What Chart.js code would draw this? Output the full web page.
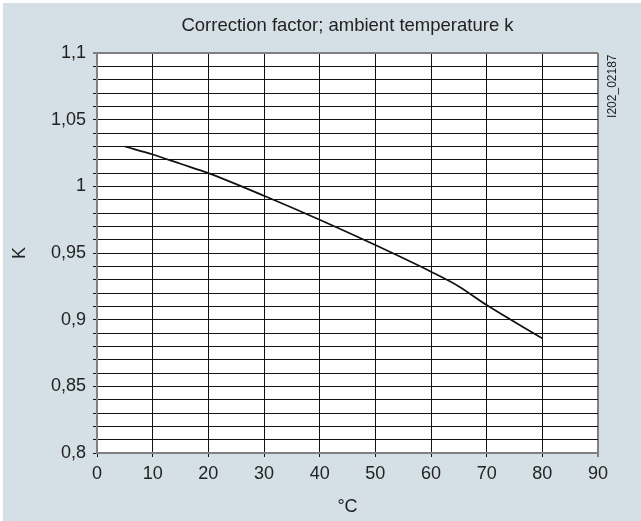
<!DOCTYPE html>
<html>
<head>
<meta charset="utf-8">
<script src="https://cdn.jsdelivr.net/npm/chart.js@4.4.1/dist/chart.umd.min.js"></script>
<style>
    html, body { margin: 0; padding: 0; background: #fff; }
    #wrap { width: 641px; height: 521px; }
</style>
</head>
<body>
<div id="wrap"><canvas id="kChart" width="641" height="521"></canvas></div>
<script>
// values
const temps = [5, 10, 15, 20, 30, 40, 50, 60, 65, 70, 80];
const factors = [1.030, 1.024, 1.017, 1.010, 0.993, 0.975, 0.956, 0.936, 0.925, 0.911, 0.886];

const chartTitle = 'Correction factor; ambient temperature k';
const xTitle = '°C';
const yTitle = 'K';
const figureCode = 'I202_02187';

const panelColor = '#d5dfe6';
const frameColor = '#808080';
const fontFamily = '"Liberation Sans", Arial, sans-serif';

// grey panel, white plot area, code label on the right
const backdrop = {
    id: 'backdrop',
    beforeDraw(chart) {
        const { ctx, chartArea: a } = chart;
        ctx.save();
        ctx.fillStyle = panelColor;
        ctx.fillRect(3, 3, chart.width - 3, chart.height - 3);
        ctx.fillStyle = '#fff';
        ctx.fillRect(a.left, a.top, a.right - a.left, a.bottom - a.top);
        ctx.restore();
    },
    afterDraw(chart) {
        const { ctx, chartArea: a } = chart;
        ctx.save();
        ctx.translate(a.right + 15, a.top + 33);
        ctx.rotate(-Math.PI / 2);
        ctx.font = '12px ' + fontFamily;
        ctx.fillStyle = '#222';
        ctx.textAlign = 'center';
        ctx.textBaseline = 'middle';
        ctx.fillText(figureCode, 0, 0);
        ctx.restore();
    }
};

const isMajor = v => Math.abs(v * 20 - Math.round(v * 20)) < 1e-6;
const fmt = v => String(+v.toFixed(2)).replace('.', ',');

new Chart(document.getElementById('kChart'), {
    type: 'line',
    data: {
        datasets: [{
            data: temps.map((t, i) => ({ x: t, y: factors[i] })),
            borderColor: '#111',
            borderWidth: 1.7,
            pointRadius: 0,
            cubicInterpolationMode: 'monotone',
            fill: false
        }]
    },
    options: {
        responsive: false,
        animation: false,
        layout: { padding: { left: 0, right: 43, top: 0, bottom: 0 } },
        plugins: {
            legend: { display: false },
            tooltip: { enabled: false },
            title: {
                display: true,
                fullSize: false,
                text: chartTitle,
                color: '#222',
                font: { family: fontFamily, size: 18.5, weight: 'normal' },
                padding: { top: 15, bottom: 16 }
            }
        },
        scales: {
            x: {
                type: 'linear',
                min: 0,
                max: 90,
                afterFit: s => { s.height = 68; },
                ticks: {
                    stepSize: 10,
                    color: '#222',
                    padding: 6,
                    font: { family: fontFamily, size: 18 }
                },
                grid: {
                    color: c => c.tick && c.tick.value === 90 ? frameColor : '#111',
                    lineWidth: c => c.tick && c.tick.value === 90 ? 2 : 1,
                    tickLength: 4
                },
                border: { color: frameColor, width: 2 },
                title: {
                    display: true,
                    text: xTitle,
                    color: '#222',
                    font: { family: fontFamily, size: 18 },
                    padding: { top: 3, bottom: 3 }
                }
            },
            y: {
                min: 0.8,
                max: 1.1,
                afterFit: s => { s.width = 97; },
                ticks: {
                    stepSize: 0.01,
                    autoSkip: false,
                    color: '#222',
                    padding: 7,
                    font: { family: fontFamily, size: 18 },
                    callback: v => isMajor(v) ? fmt(v) : ''
                },
                grid: {
                    color: c => c.tick && Math.abs(c.tick.value - 1.1) < 1e-6 ? frameColor : '#111',
                    lineWidth: c => c.tick && Math.abs(c.tick.value - 1.1) < 1e-6 ? 2 : 1,
                    tickLength: 4
                },
                border: { color: frameColor, width: 2 },
                title: {
                    display: true,
                    text: yTitle,
                    color: '#222',
                    font: { family: fontFamily, size: 18 },
                    padding: { top: 9, bottom: 4 }
                }
            }
        }
    },
    plugins: [backdrop]
});
</script>
</body>
</html>
